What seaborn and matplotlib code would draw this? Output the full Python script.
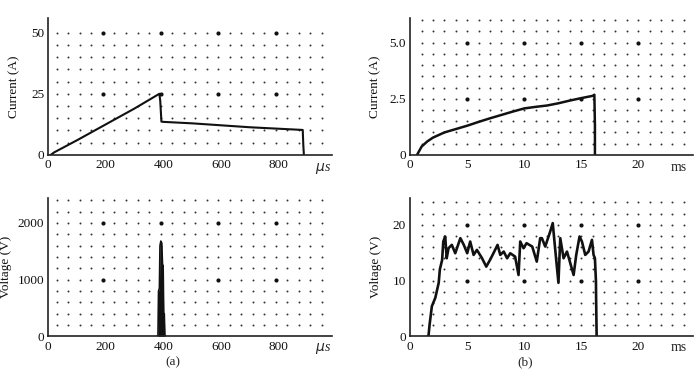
import numpy as np
import pandas as pd
import matplotlib
matplotlib.use("Agg")
import matplotlib.pyplot as plt
import seaborn as sns

# (a) current, time in us
t_a_cur = [8, 12, 20, 100, 200, 300, 386, 389, 393, 400, 500, 600, 700, 800, 884, 886, 888]
i_a_cur = [0, 0.3, 1.0, 6.0, 12.5, 19.0, 25.0, 22.0, 13.6, 13.5, 12.9, 12.1, 11.3, 10.7, 10.2, 4.0, 0]

# (a) voltage spike, time in us
t_a_vol = [378, 381, 383, 386, 388, 391, 394, 397, 399, 401, 403, 405, 407]
v_a_vol = [0, 0, 800, 850, 1600, 1680, 1650, 1250, 1250, 400, 400, 0, 0]

# (b) current, time in ms
t_b_cur = [0.6, 1.0, 1.5, 2.0, 3.0, 4.0, 5.0, 6.0, 7.0, 8.0, 9.0, 10.0, 11.0,
           12.0, 13.0, 14.0, 15.0, 16.0, 16.15, 16.2, 16.2]
i_b_cur = [0, 0.37, 0.6, 0.77, 1.0, 1.15, 1.3, 1.47, 1.63, 1.78, 1.93, 2.07, 2.14,
           2.2, 2.3, 2.42, 2.53, 2.63, 2.68, 1.3, 0]

# (b) voltage, time in ms
t_b_vol = [1.55, 1.6, 1.7, 1.9, 2.2, 2.5, 2.6, 2.8, 2.9, 3.07, 3.2, 3.36, 3.65, 3.95,
           4.4, 4.7, 5.0, 5.26, 5.56, 5.85, 6.3, 6.67, 7.0, 7.3, 7.66, 7.9, 8.2, 8.5,
           8.77, 9.2, 9.5, 9.65, 9.94, 10.2, 10.7, 11.1, 11.4, 11.55, 11.84, 12.28,
           12.5, 12.72, 13.0, 13.16, 13.45, 13.75, 14.0, 14.33, 14.56, 14.85, 15.06,
           15.35, 15.64, 15.94, 16.08, 16.2, 16.29, 16.3, 16.35]
v_b_vol = [0, 0, 2.1, 5.4, 6.9, 9.6, 12.0, 13.7, 17.0, 17.9, 14.0, 15.8, 16.4, 14.9,
           17.6, 16.4, 14.9, 17.0, 14.6, 15.5, 14.0, 12.5, 13.7, 14.9, 16.4, 14.6, 15.2, 14.0,
           14.9, 14.3, 11.0, 17.0, 15.8, 16.7, 16.1, 13.4, 17.6, 17.6, 16.1, 18.8,
           20.3, 15.5, 9.6, 17.6, 14.0, 15.2, 13.4, 11.0, 14.6, 17.9, 17.0,
           14.6, 15.2, 17.3, 14.6, 14.0, 9.8, 7.4, 0]

sns.set_theme(style="white")
plt.rcParams["font.family"] = ["Liberation Serif", "DejaVu Serif"]
plt.rcParams["font.size"] = 9.5

fig = plt.figure(figsize=(7, 3.75), dpi=100)
ax1 = fig.add_axes([0.069, 0.587, 0.405, 0.365])
ax2 = fig.add_axes([0.069, 0.103, 0.405, 0.369])
ax3 = fig.add_axes([0.586, 0.587, 0.404, 0.365])
ax4 = fig.add_axes([0.586, 0.103, 0.404, 0.369])


def dot_grid(ax, xs, ys, xmaj, ymaj):
    gx, gy = np.meshgrid(xs, ys)
    ax.scatter(gx.ravel(), gy.ravel(), s=2.0, color="#333333", linewidths=0, zorder=1)
    mx, my = np.meshgrid(xmaj, ymaj)
    ax.scatter(mx.ravel(), my.ravel(), s=9, color="#111111", linewidths=0, zorder=1)


dot_grid(ax1, np.arange(30, 951, 40), np.arange(5, 51, 5), [190, 390, 590, 790], [25, 50])
dot_grid(ax2, np.arange(30, 951, 40), np.arange(200, 2401, 200), [190, 390, 590, 790], [1000, 2000])
dot_grid(ax3, np.arange(1, 25, 1), np.arange(0.5, 6.01, 0.5), [5, 10, 15, 20], [2.5, 5.0])
dot_grid(ax4, np.arange(1, 25, 1), np.arange(2, 24.1, 2), [5, 10, 15, 20], [10, 20])

df1 = pd.DataFrame({"t": t_a_cur, "i": i_a_cur})
sns.lineplot(data=df1, x="t", y="i", ax=ax1, color="#111111", lw=1.5, estimator=None, sort=False)

ax2.fill_between(t_a_vol, v_a_vol, color="#111111", lw=0)
sns.lineplot(x=t_a_vol, y=v_a_vol, ax=ax2, color="#111111", lw=1.2, estimator=None, sort=False)

df3 = pd.DataFrame({"t": t_b_cur, "i": i_b_cur})
sns.lineplot(data=df3, x="t", y="i", ax=ax3, color="#111111", lw=1.8, estimator=None, sort=False)

df4 = pd.DataFrame({"t": t_b_vol, "v": v_b_vol})
sns.lineplot(data=df4, x="t", y="v", ax=ax4, color="#111111", lw=1.9, estimator=None, sort=False)

ax1.set(xlim=(0, 985), ylim=(0, 56), xticks=[0, 200, 400, 600, 800], yticks=[0, 25, 50])
ax2.set(xlim=(0, 985), ylim=(0, 2440), xticks=[0, 200, 400, 600, 800], yticks=[0, 1000, 2000])
ax3.set(xlim=(0, 24.8), ylim=(0, 6.1), xticks=[0, 5, 10, 15, 20], yticks=[0, 2.5, 5.0])
ax3.set_yticklabels(["0", "2.5", "5.0"])
ax4.set(xlim=(0, 24.8), ylim=(0, 24.8), xticks=[0, 5, 10, 15, 20], yticks=[0, 10, 20])

for ax, lab, lx in [(ax1, "Current (A)", -0.10), (ax2, "Voltage (V)", -0.128),
                    (ax3, "Current (A)", -0.103), (ax4, "Voltage (V)", -0.101)]:
    sns.despine(ax=ax)
    for s in ["left", "bottom"]:
        ax.spines[s].set_color("#222222")
        ax.spines[s].set_linewidth(1.2)
    ax.tick_params(direction="in", length=4, width=1, colors="#222222", pad=3,
                   labelsize=9.5, labelcolor="#111111")
    ax.set_xlabel("")
    ax.set_ylabel(lab, fontsize=9.5, color="#111111")
    ax.yaxis.set_label_coords(lx, 0.5)

fig.text(0.461, 0.572, r"$\mu$s", ha="center", va="top", fontsize=10, style="italic")
fig.text(0.461, 0.090, r"$\mu$s", ha="center", va="top", fontsize=10, style="italic")
fig.text(0.969, 0.572, "ms", ha="center", va="top", fontsize=10)
fig.text(0.969, 0.090, "ms", ha="center", va="top", fontsize=10)

fig.text(0.247, 0.035, "(a)", ha="center", va="center", fontsize=9.5)
fig.text(0.750, 0.035, "(b)", ha="center", va="center", fontsize=9.5)

fig.savefig("out.png", dpi=100)
